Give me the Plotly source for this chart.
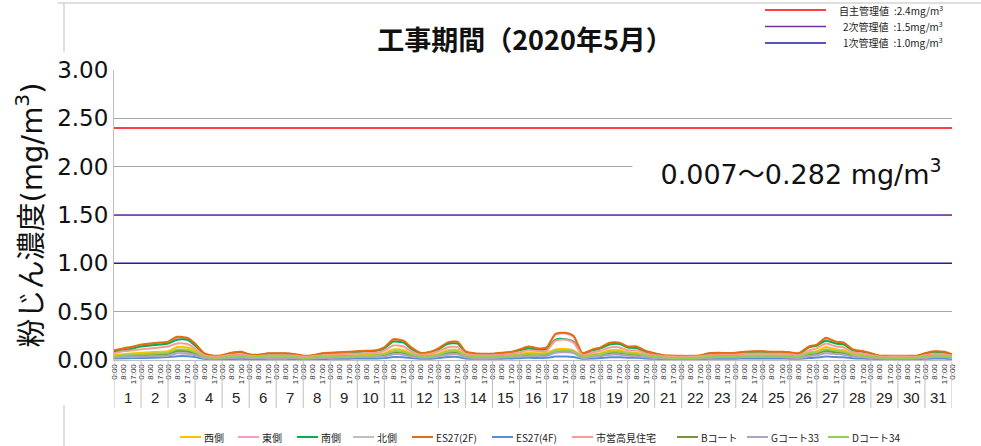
import pandas as pd
import plotly.graph_objects as go

DAYS = list(range(1, 32))
SAMPLE_HOURS = [0, 8, 17]
HOUR_LABELS = ["0:00", "8:00", "17:00"]

# values at 0:00 / 8:00 / 17:00 of each day, plus 0:00 on 1 June (mg/m3)
nishi = [.05, .06, .07, .075, .08, .085, .09, .135, .13, .10, .04, .025,
         .03, .04, .045, .035, .035, .04, .04, .04, .035, .025, .03, .04,
         .04, .045, .05, .05, .055, .06, .07, .11, .10, .07, .045, .05,
         .065, .10, .105, .05, .04, .04, .04, .045, .05, .06, .075, .07,
         .075, .11, .115, .10, .04, .06, .07, .10, .10, .08, .075, .05,
         .04, .03, .025, .025, .025, .03, .04, .045, .045, .045, .05, .05,
         .05, .05, .05, .045, .04, .08, .09, .135, .11, .10, .065, .055,
         .04, .03, .025, .025, .025, .03, .04, .055, .05, .035]
higashi = [.09, .11, .13, .15, .16, .17, .18, .23, .22, .16, .065, .04,
           .045, .07, .08, .055, .05, .065, .065, .065, .055, .04, .045, .065,
           .07, .075, .08, .085, .09, .095, .12, .20, .19, .12, .07, .08,
           .11, .17, .18, .085, .065, .06, .06, .07, .08, .10, .13, .115,
           .125, .265, .275, .24, .065, .105, .125, .175, .175, .135, .13, .085,
           .065, .045, .04, .04, .04, .045, .065, .07, .068, .07, .08, .085,
           .085, .08, .08, .075, .065, .13, .15, .22, .185, .17, .10, .085,
           .065, .04, .04, .04, .04, .042, .065, .085, .08, .055]
minami = [.09, .10, .12, .14, .15, .16, .17, .21, .21, .15, .06, .04,
          .045, .07, .08, .055, .05, .065, .065, .065, .055, .04, .045, .065,
          .07, .075, .08, .085, .09, .095, .12, .19, .18, .115, .07, .08,
          .11, .165, .17, .085, .065, .06, .06, .07, .08, .10, .12, .105,
          .11, .21, .215, .19, .065, .10, .12, .16, .165, .13, .125, .08,
          .065, .045, .04, .04, .04, .045, .065, .07, .068, .07, .08, .085,
          .085, .08, .08, .075, .065, .13, .15, .20, .17, .16, .10, .085,
          .065, .04, .04, .04, .04, .042, .065, .08, .075, .055]
kita = [.03, .035, .04, .045, .05, .05, .055, .085, .08, .06, .025, .015,
        .018, .025, .03, .02, .02, .025, .025, .025, .02, .015, .018, .025,
        .025, .03, .03, .035, .035, .04, .045, .07, .065, .045, .03, .03,
        .045, .065, .07, .035, .025, .025, .025, .03, .035, .04, .05, .045,
        .05, .10, .095, .085, .025, .04, .045, .065, .065, .055, .05, .035,
        .025, .018, .015, .015, .015, .018, .025, .03, .03, .03, .035, .035,
        .035, .035, .035, .03, .025, .05, .06, .085, .07, .065, .04, .035,
        .025, .018, .015, .015, .015, .018, .025, .035, .035, .02]
es27_2f = [.10, .12, .14, .16, .17, .18, .19, .24, .23, .17, .07, .045,
           .05, .075, .085, .06, .055, .07, .07, .07, .06, .045, .05, .07,
           .075, .08, .085, .09, .095, .10, .13, .215, .20, .13, .075, .085,
           .12, .18, .19, .09, .07, .065, .065, .075, .085, .11, .14, .12,
           .13, .27, .282, .25, .07, .11, .13, .18, .18, .14, .14, .09,
           .07, .05, .045, .043, .043, .05, .07, .075, .072, .075, .085, .09,
           .09, .085, .085, .08, .07, .14, .16, .23, .19, .18, .11, .09,
           .07, .045, .043, .043, .043, .045, .07, .09, .085, .06]
es27_4f = [.015, .018, .02, .02, .022, .025, .03, .04, .04, .03, .012, .008,
           .008, .01, .012, .01, .01, .012, .012, .012, .01, .007, .008, .01,
           .012, .012, .014, .015, .015, .016, .02, .03, .028, .02, .014, .014,
           .02, .03, .032, .016, .012, .012, .012, .014, .016, .018, .022, .02,
           .022, .035, .035, .03, .012, .016, .02, .028, .028, .024, .022, .016,
           .012, .01, .008, .008, .008, .009, .012, .014, .014, .014, .016, .016,
           .016, .016, .016, .014, .012, .02, .025, .035, .03, .028, .018, .015,
           .012, .009, .008, .008, .008, .009, .012, .015, .015, .01]
takami = [.07, .09, .10, .11, .12, .13, .14, .17, .165, .12, .05, .035,
          .04, .055, .06, .045, .04, .05, .05, .05, .045, .035, .04, .05,
          .055, .06, .065, .065, .07, .075, .095, .15, .14, .09, .055, .065,
          .09, .13, .135, .065, .05, .05, .05, .055, .065, .08, .10, .09,
          .095, .20, .21, .18, .05, .08, .095, .13, .13, .10, .10, .065,
          .05, .04, .035, .035, .035, .04, .05, .055, .055, .055, .065, .065,
          .065, .065, .065, .06, .05, .10, .12, .17, .14, .13, .08, .065,
          .05, .035, .035, .035, .035, .035, .05, .065, .06, .045]
b_court = [.035, .04, .045, .05, .055, .06, .065, .095, .09, .07, .03, .018,
           .02, .03, .035, .025, .025, .03, .03, .03, .025, .018, .02, .03,
           .03, .035, .035, .04, .04, .045, .05, .08, .075, .05, .035, .035,
           .05, .075, .08, .04, .03, .03, .03, .035, .04, .045, .055, .05,
           .055, .085, .09, .08, .03, .045, .05, .075, .075, .06, .055, .04,
           .03, .02, .018, .018, .018, .02, .03, .035, .035, .035, .04, .04,
           .04, .04, .04, .035, .03, .06, .07, .095, .08, .075, .045, .04,
           .03, .02, .018, .018, .018, .02, .03, .04, .04, .025]
g_court33 = [.025, .03, .03, .035, .04, .04, .045, .07, .065, .05, .02, .012,
             .015, .02, .025, .018, .018, .02, .02, .02, .018, .012, .015, .02,
             .02, .025, .025, .03, .03, .03, .035, .06, .055, .035, .025, .025,
             .035, .055, .06, .03, .02, .02, .02, .025, .03, .035, .04, .04,
             .04, .075, .08, .07, .02, .035, .04, .055, .055, .045, .04, .03,
             .02, .015, .012, .012, .012, .015, .02, .025, .025, .025, .03, .03,
             .03, .03, .03, .025, .02, .04, .05, .07, .06, .055, .035, .03,
             .02, .015, .012, .012, .012, .015, .02, .03, .03, .018]
d_court34 = [.04, .05, .055, .06, .065, .07, .075, .11, .105, .08, .035, .02,
             .025, .035, .04, .03, .03, .035, .035, .035, .03, .02, .025, .035,
             .035, .04, .04, .045, .045, .05, .06, .09, .085, .06, .04, .04,
             .055, .085, .09, .045, .035, .035, .035, .04, .045, .05, .065, .06,
             .065, .095, .10, .09, .035, .05, .06, .085, .085, .07, .065, .045,
             .035, .025, .02, .02, .02, .025, .035, .04, .04, .04, .045, .045,
             .045, .045, .045, .04, .035, .07, .08, .11, .095, .085, .055, .045,
             .035, .025, .02, .02, .02, .025, .035, .045, .045, .03]

SERIES = [
    ("西側", nishi, "#FFC000"),
    ("東側", higashi, "#FF99CC"),
    ("南側", minami, "#00B050"),
    ("北側", kita, "#BFBFBF"),
    ("ES27(2F)", es27_2f, "#E46C0A"),
    ("ES27(4F)", es27_4f, "#558ED5"),
    ("市営高見住宅", takami, "#FF9999"),
    ("Bコート", b_court, "#77933C"),
    ("Gコート33", g_court33, "#B3A2C7"),
    ("Dコート34", d_court34, "#92D050"),
]

LIMIT_NAMES = ["自主管理値", "2次管理値", "1次管理値"]
LIMIT_VALUES = [2.4, 1.5, 1.0]
LIMIT_COLORS = ["#FF0000", "#7030A0", "#1F1FA0"]

RANGE_TEXT = "0.007〜0.282 mg/m<sup>3</sup>"

FONT = "DejaVu Sans, Noto Sans CJK JP, sans-serif"
JP_FONT = "Noto Sans CJK JP, sans-serif"
GRID = "#A6A6A6"
AXIS = "#BFBFBF"

# plot area in page pixels, used to place the hand-made legends
PLOT_LEFT, PLOT_W = 114, 838
PLOT_BOTTOM, PLOT_H = 360, 290


def px_x(px):
    return (px - PLOT_LEFT) / PLOT_W


def px_y(py):
    return (PLOT_BOTTOM - py) / PLOT_H


LEGEND_X = [180, 238, 297, 353, 412, 492, 572, 677, 747, 828]

start = pd.Timestamp(2020, 5, 1)
end = pd.Timestamp(2020, 6, 1)
times = [start + pd.Timedelta(days=d - 1, hours=h) for d in DAYS for h in SAMPLE_HOURS]
times.append(end)
tick_text = HOUR_LABELS * len(DAYS) + ["0:00"]

fig = go.Figure()

for name, value, color in zip(LIMIT_NAMES, LIMIT_VALUES, LIMIT_COLORS):
    fig.add_trace(go.Scatter(x=[start, end], y=[value, value], mode="lines",
                             line=dict(color=color, width=1.5),
                             name=name, showlegend=False, hoverinfo="skip"))

for name, values, color in SERIES:
    fig.add_trace(go.Scatter(x=times, y=values, mode="lines", name=name, showlegend=False,
                             line=dict(color=color, width=2, shape="spline", smoothing=0.6)))

# day separators and day numbers under the hour ticks
for d in DAYS + [32]:
    fig.add_shape(type="line", xref="x", yref="paper",
                  x0=start + pd.Timedelta(days=d - 1), x1=start + pd.Timedelta(days=d - 1),
                  y0=0, y1=px_y(408), line=dict(color=AXIS, width=1))
for d in DAYS:
    fig.add_annotation(x=start + pd.Timedelta(days=d - 1, hours=12), y=px_y(397),
                       xref="x", yref="paper", yanchor="middle", text=str(d), showarrow=False,
                       font=dict(family="Liberation Sans, sans-serif", size=15, color="#222"))

# series legend along the bottom
for lx, (name, values, color) in zip(LEGEND_X, SERIES):
    fig.add_shape(type="line", xref="paper", yref="paper", x0=px_x(lx), x1=px_x(lx + 21),
                  y0=px_y(437), y1=px_y(437), line=dict(color=color, width=2))
    fig.add_annotation(x=px_x(lx + 22), y=px_y(437), xref="paper", yref="paper",
                       xanchor="left", yanchor="middle", text=name, showarrow=False,
                       font=dict(family=JP_FONT, size=10, color="#222"))

# threshold legend, top right
for i, (name, value, color) in enumerate(zip(LIMIT_NAMES, LIMIT_VALUES, LIMIT_COLORS)):
    ly = px_y(10 + i * 16.5)
    fig.add_shape(type="line", xref="paper", yref="paper", x0=px_x(765), x1=px_x(826),
                  y0=ly, y1=ly, line=dict(color=color, width=1.5))
    fig.add_annotation(x=px_x(945), y=ly, xref="paper", yref="paper",
                       xanchor="right", yanchor="middle",
                       text=f"{name}\u2002:{value:.1f}mg/m<sup>3</sup>", showarrow=False,
                       font=dict(family=JP_FONT, size=10, color="#222"))

fig.add_annotation(x=px_x(801), y=1.94, xref="paper", yref="y", xanchor="center",
                   yanchor="middle", text=RANGE_TEXT, showarrow=False, width=334, height=40,
                   bgcolor="white", font=dict(family=FONT, size=27, color="#111"))

# frame remnants of the original sheet
fig.add_shape(type="line", xref="paper", yref="paper", x0=px_x(58), x1=px_x(981),
              y0=px_y(3), y1=px_y(3), line=dict(color=AXIS, width=1))
fig.add_shape(type="line", xref="paper", yref="paper", x0=px_x(64), x1=px_x(64),
              y0=px_y(3), y1=px_y(52), line=dict(color=AXIS, width=1))
fig.add_shape(type="line", xref="paper", yref="paper", x0=px_x(64), x1=px_x(64),
              y0=px_y(405), y1=px_y(446), line=dict(color=AXIS, width=1))

fig.update_layout(
    width=981, height=446,
    margin=dict(l=PLOT_LEFT, r=981 - PLOT_LEFT - PLOT_W, t=PLOT_BOTTOM - PLOT_H,
                b=446 - PLOT_BOTTOM, autoexpand=False),
    paper_bgcolor="white", plot_bgcolor="white",
    font=dict(family=FONT, color="#111"),
    title=dict(text="<b>工事期間（2020年5月）</b>", x=px_x(525), xref="paper", xanchor="center",
               y=0.91, yanchor="middle", font=dict(family=JP_FONT, size=27, color="#111")),
    xaxis=dict(range=[start, end], tickmode="array", tickvals=times, ticktext=tick_text,
               tickangle=-90, tickfont=dict(family="Liberation Sans, sans-serif", size=8, color="#333"),
               showgrid=False, showline=True, linecolor=AXIS, ticks="", zeroline=False,
               automargin=False),
    yaxis=dict(range=[0, 3], tickmode="array", tickvals=[0, 0.5, 1, 1.5, 2, 2.5, 3],
               tickformat=".2f", tickfont=dict(size=23, color="#111"),
               gridcolor=GRID, showline=True, linecolor=AXIS, zeroline=False,
               automargin=False,
               title=dict(text="粉じん濃度(mg/m<sup>3</sup>)", standoff=6,
                          font=dict(family=FONT, size=29, color="#111"))),
    showlegend=False,
)

fig.write_html("out.html", config={"displayModeBar": False},
               post_script="document.body.style.margin = '0';")
